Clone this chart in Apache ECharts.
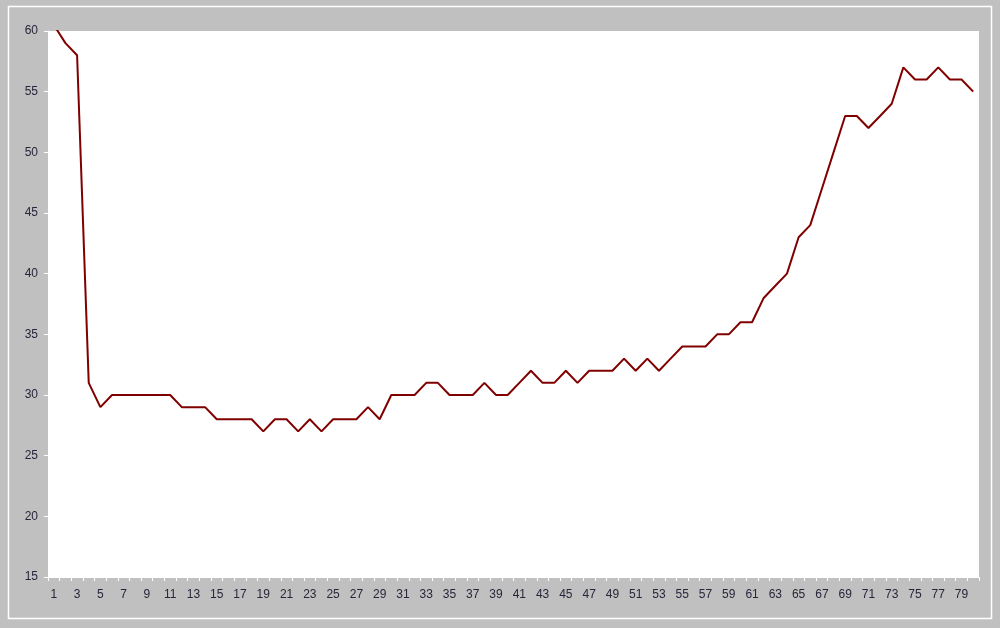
<!DOCTYPE html>
<html>
<head>
<meta charset="utf-8">
<script src="https://cdn.jsdelivr.net/npm/echarts@6/dist/echarts.min.js"></script>
<style>
html,body{margin:0;padding:0;background:#c0c0c0;}
#chart{width:1000px;height:628px;}
</style>
</head>
<body>
<div id="chart"></div>
<script>
var categories = ['1','2','3','4','5','6','7','8','9','10','11','12','13','14','15','16','17','18','19','20',
  '21','22','23','24','25','26','27','28','29','30','31','32','33','34','35','36','37','38','39','40',
  '41','42','43','44','45','46','47','48','49','50','51','52','53','54','55','56','57','58','59','60',
  '61','62','63','64','65','66','67','68','69','70','71','72','73','74','75','76','77','78','79','80'];
var values = [60.5, 59, 58, 31, 29, 30, 30, 30, 30, 30,
  30, 29, 29, 29, 28, 28, 28, 28, 27, 28,
  28, 27, 28, 27, 28, 28, 28, 29, 28, 30,
  30, 30, 31, 31, 30, 30, 30, 31, 30, 30,
  31, 32, 31, 31, 32, 31, 32, 32, 32, 33,
  32, 33, 32, 33, 34, 34, 34, 35, 35, 36,
  36, 38, 39, 40, 43, 44, 47, 50, 53, 53,
  52, 53, 54, 57, 56, 56, 57, 56, 56, 55];
var yMin = 15, yMax = 60, yStep = 5;

var chart = echarts.init(document.getElementById('chart'), null, {renderer: 'canvas'});
var labelStyle = {color: '#26263a', fontFamily: 'Liberation Sans, Arial, sans-serif', fontSize: 12};
chart.setOption({
  backgroundColor: '#c0c0c0',
  animation: false,
  graphic: [{
    type: 'rect',
    shape: {x: 8.5, y: 6.5, width: 983, height: 612},
    style: {fill: 'none', stroke: '#ffffff', lineWidth: 1.5},
    silent: true
  }],
  grid: {
    left: 48, right: 21, top: 31, bottom: 51,
    show: true, backgroundColor: '#ffffff', borderWidth: 0
  },
  xAxis: {
    type: 'category',
    data: categories,
    boundaryGap: true,
    axisLine: {show: true, lineStyle: {color: '#ffffff', width: 1}},
    axisTick: {show: true, interval: 0, length: 4, lineStyle: {color: '#ffffff'}},
    axisLabel: Object.assign({interval: 1, margin: 12}, labelStyle),
    splitLine: {show: false}
  },
  yAxis: {
    type: 'value',
    min: yMin, max: yMax, interval: yStep,
    axisLine: {show: true, lineStyle: {color: '#ffffff', width: 1}},
    axisTick: {show: true, length: 4, lineStyle: {color: '#ffffff'}},
    axisLabel: Object.assign({margin: 10}, labelStyle),
    splitLine: {show: false}
  },
  series: [{
    type: 'line',
    data: values,
    symbol: 'none',
    clip: true,
    lineStyle: {color: '#800000', width: 2},
    itemStyle: {color: '#800000'}
  }]
});
</script>
</body>
</html>
